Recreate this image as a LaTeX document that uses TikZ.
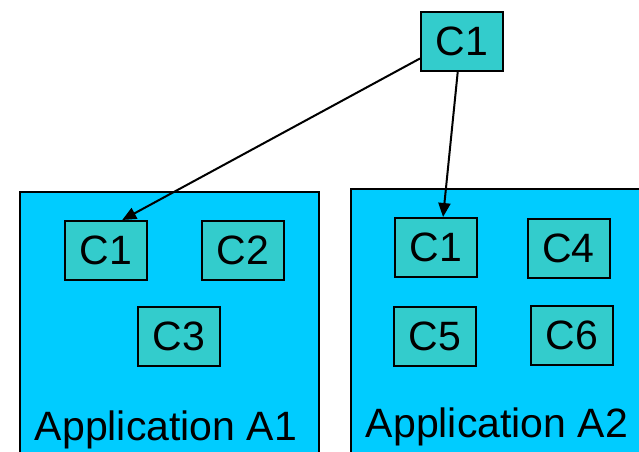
\documentclass[tikz,border=0pt]{standalone}
\usepackage{fontspec}
\setmainfont{Liberation Sans}
\usepackage{tikz}
\usetikzlibrary{arrows.meta}

\definecolor{appcyan}{HTML}{00CCFF}
\definecolor{compteal}{HTML}{33CCCC}

\begin{document}
\begin{tikzpicture}[x=1pt, y=-1pt]
	\tikzstyle{every node}=[font=\fontsize{41}{49}\selectfont]
	\tikzset{comp/.style = {rectangle, draw, line width = 2pt, fill = compteal, minimum width = 82pt, minimum height = 59pt, inner sep = 0pt}}
	\tikzset{app/.style = {rectangle, draw, line width = 2pt, fill = appcyan, inner sep = 0pt, anchor = north west}}
	\tikzset{link/.style = {-{Triangle[length = 14pt, width = 12pt]}, line width = 2pt}}

\useasboundingbox (0,0) rectangle (639,451);
\clip (0,0) rectangle (639,451);

%% Application boxes
\draw (19,191) node[app, name = app1, minimum width = 299pt, minimum height = 275pt]{};
\draw (350,188) node[app, name = app2, minimum width = 300pt, minimum height = 280pt]{};

\draw (166,440) node[name = lbl1, anchor = base]{Application A1};
\draw (497,437) node[name = lbl2, anchor = base]{Application A2};

%% Shared component
\draw (462,41.5) node[comp, name = top]{C1};

%% Components of A1
\draw (106,250.5) node[comp, name = aonec1]{C1};
\draw (243,250.5) node[comp, name = aonec2]{C2};
\draw (179,336) node[comp, name = aonec3]{C3};

%% Components of A2
\draw (436,247.5) node[comp, name = atwoc1]{C1};
\draw (568.5,248.5) node[comp, name = atwoc4]{C4};
\draw (435,336.5) node[comp, name = atwoc5]{C5};
\draw (572,335) node[comp, name = atwoc6]{C6};

%% Edges
\draw[link] (top.202) -- (aonec1.62);
\draw[link] (top.262) -- (atwoc1.77);

\end{tikzpicture}
\end{document}
